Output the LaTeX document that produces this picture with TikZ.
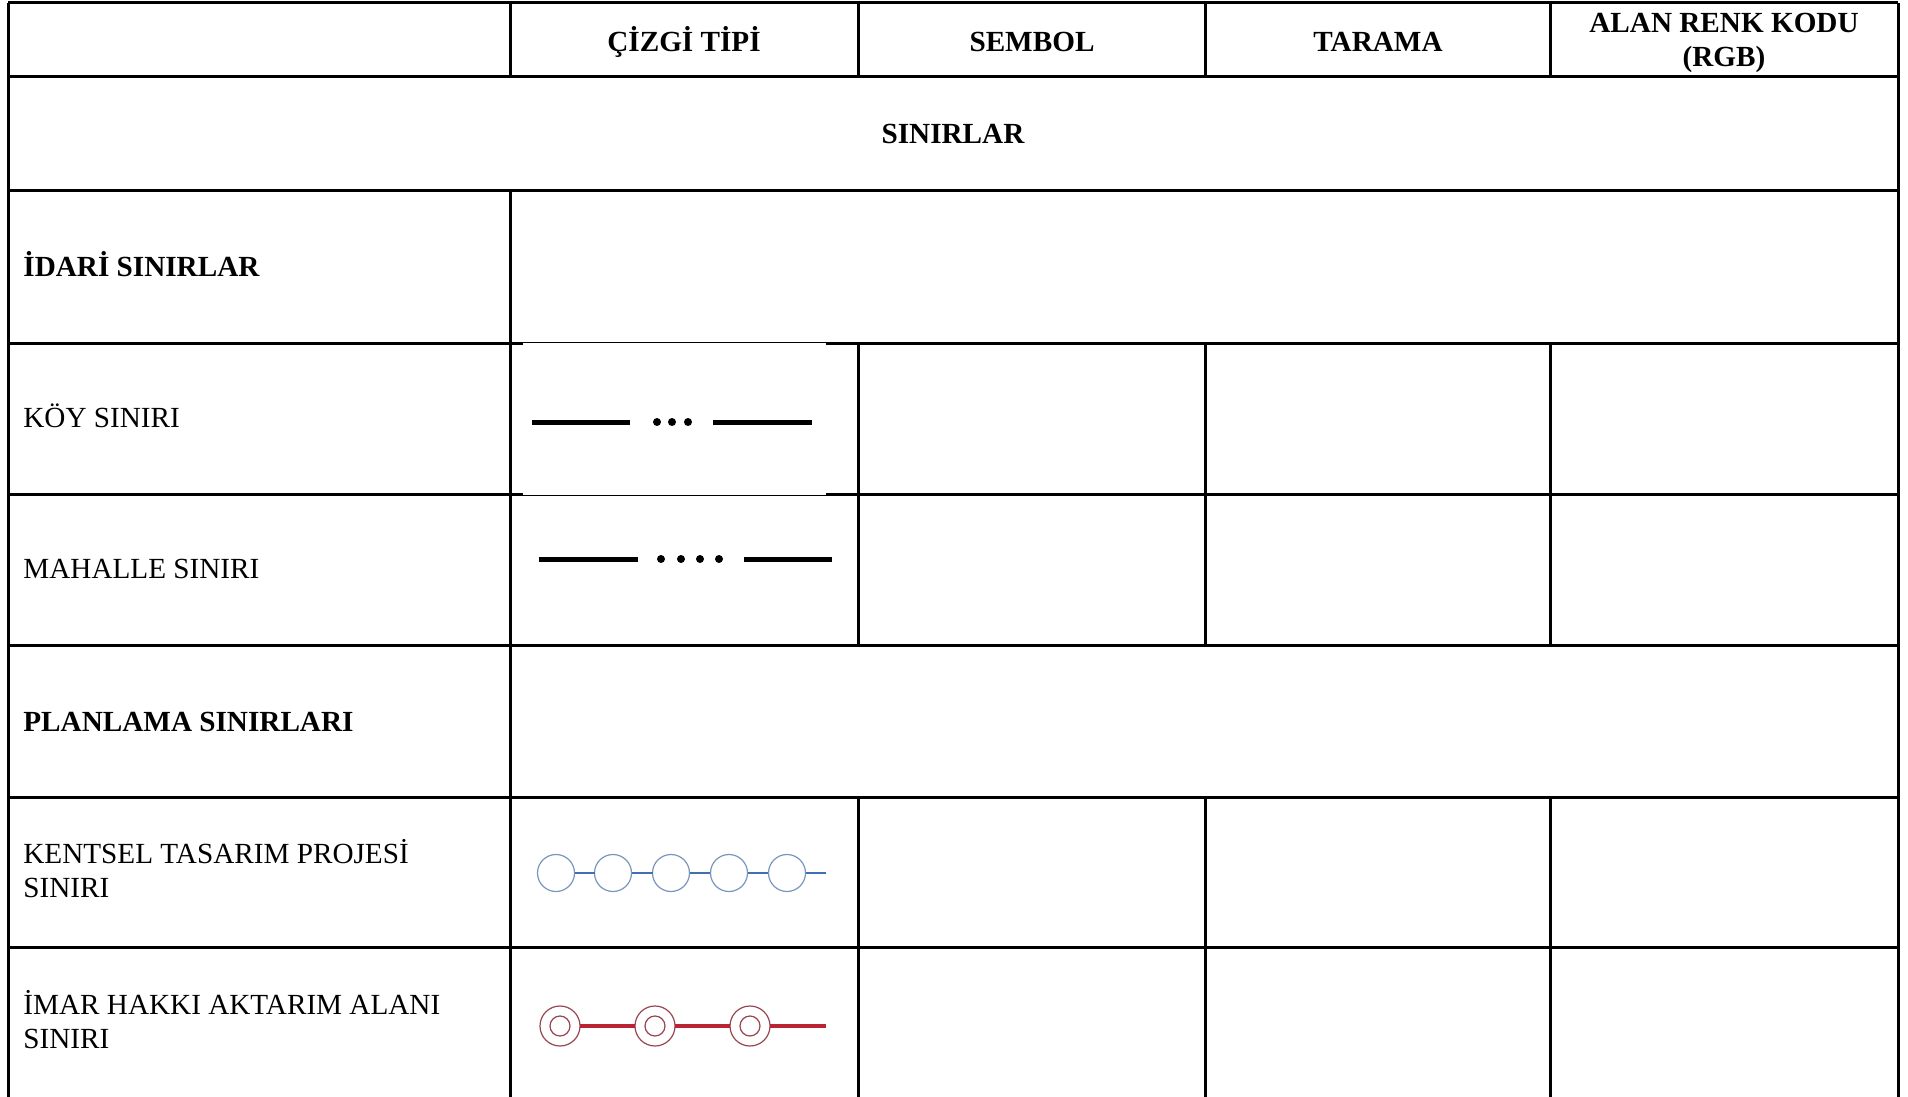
\documentclass[tikz,border=0pt]{standalone}
\usepackage{fontspec}
\setmainfont{Liberation Serif}
\usepackage{xcolor}
\definecolor{tasarimblue}{RGB}{62,112,178}
\definecolor{tasarimring}{RGB}{120,150,190}
\definecolor{aktarimred}{RGB}{185,35,50}
\definecolor{aktarimring}{RGB}{150,70,80}

\begin{document}
\begin{tikzpicture}[x=0.5pt, y=-0.5pt,
  grid/.style = {line width=1.5pt},
  rowlabel/.style = {anchor=west, align=left, inner sep=0pt,
    font=\fontsize{14.6}{17}\selectfont},
  rowhead/.style = {rowlabel, font=\fontsize{14.6}{17}\selectfont\bfseries},
  colhead/.style = {align=center, inner sep=0pt,
    font=\fontsize{14.6}{17}\selectfont\bfseries}]
  \useasboundingbox (0,0) rectangle (1908,1097);

  % table lines
  \foreach \y in {3,77,191,343,494,645,797,947}
    \draw[grid] (8,\y) -- (1898,\y);
  \foreach \x in {8,1898}
    \draw[grid] (\x,3) -- (\x,1097);
  \draw[grid] (510,3) -- (510,77) (510,191) -- (510,1097);
  \foreach \x in {858,1205,1550}
    \draw[grid] (\x,3) -- (\x,77) (\x,343) -- (\x,645) (\x,797) -- (\x,1097);

  % column heads
  \node[colhead] (cizgi)  at (684,41.5)  {ÇİZGİ TİPİ};
  \node[colhead] (sembol) at (1032,41.5) {SEMBOL};
  \node[colhead] (tarama) at (1378,41.5) {TARAMA};
  \node[colhead] (renk)   at (1724,43)   {ALAN RENK KODU\\(RGB)};
  \node[colhead] (sinirlar) at (953,134) {SINIRLAR};

  % row labels
  \node[rowhead]  (idari)    at (23,264.5) {İDARİ SINIRLAR};
  \node[rowlabel] (koy)      at (23,415.5) {KÖY SINIRI};
  \node[rowlabel] (mahalle)  at (23,569)   {MAHALLE SINIRI};
  \node[rowhead]  (planlama) at (23,722)   {PLANLAMA SINIRLARI};
  \node[rowlabel] (kentsel)  at (23,869)   {KENTSEL TASARIM PROJESİ\\SINIRI};
  \node[rowlabel] (imar)     at (23,1020)  {İMAR HAKKI AKTARIM ALANI\\SINIRI};

  % koy siniri
  \fill[white] (523,342.6) rectangle (826,494.6);
  \draw[line width=2.5pt] (532,422) -- (630,422) (713,422) -- (812,422);
  \foreach \x in {657,672,688}
    \fill (\x,422) circle (4);

  % mahalle siniri
  \draw[line width=2.5pt] (539,559) -- (638,559) (744,559) -- (832,559);
  \foreach \x in {661,681,700,719}
    \fill (\x,559) circle (4);

  % kentsel tasarim projesi siniri
  \foreach \x in {556,613,671,729,787}
    \draw[tasarimring, line width=0.6pt] (\x,873) circle (18.5);
  \foreach \x in {574.5,632,689.5,747.5,805.5}
    \draw[tasarimblue, line width=0.8pt] (\x,873) -- ++(20.5,0);

  % imar hakki aktarim alani siniri
  \foreach \x in {560,655,750} {
    \draw[aktarimring, line width=0.6pt] (\x,1026) circle (20);
    \draw[aktarimring, line width=0.6pt] (\x,1026) circle (10);
  }
  \draw[aktarimred, line width=1.8pt] (580,1026) -- (635,1026)
    (675,1026) -- (730,1026) (770,1026) -- (826,1026);
\end{tikzpicture}
\end{document}
